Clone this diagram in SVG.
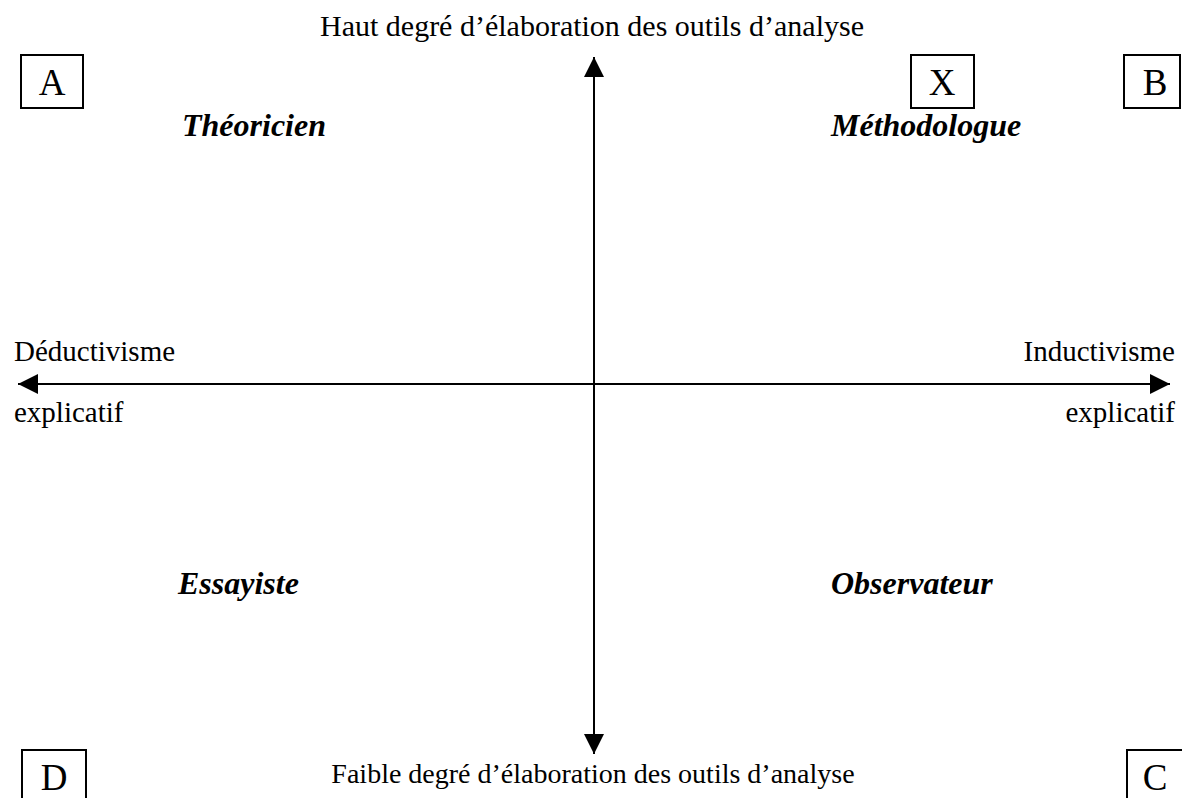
<svg xmlns="http://www.w3.org/2000/svg" width="1182" height="798" viewBox="0 0 1182 798">
<style>
.t{font-family:"Liberation Serif","Times New Roman",serif;fill:#000}
.lab{font-size:30px}
.side{font-size:29px}
.q{font-size:32px;font-weight:bold;font-style:italic}
.box{fill:#fff;stroke:#000;stroke-width:2}
.bl{font-size:37px}
.ax{stroke:#000;stroke-width:2;fill:none}
</style>
<defs>
<marker id="ah" viewBox="0 0 20 20" refX="20" refY="10" markerWidth="20" markerHeight="20" markerUnits="userSpaceOnUse" orient="auto">
<path d="M0,0 L20,10 L0,20 Z" fill="#000"/>
</marker>
</defs>
<rect width="1182" height="798" fill="#fff"/>
<g id="connectors">
<line class="ax" x1="594" y1="385" x2="594" y2="57" marker-end="url(#ah)"/>
<line class="ax" x1="594" y1="385" x2="594" y2="754" marker-end="url(#ah)"/>
<line class="ax" x1="594" y1="384" x2="18" y2="384" marker-end="url(#ah)"/>
<line class="ax" x1="594" y1="384" x2="1170" y2="384" marker-end="url(#ah)"/>
</g>
<g id="top-label"><text class="t lab" x="592" y="36" text-anchor="middle">Haut degré d’élaboration des outils d’analyse</text></g>
<g id="bottom-label"><text class="t lab" x="593" y="783" text-anchor="middle" style="font-size:28px">Faible degré d’élaboration des outils d’analyse</text></g>
<g id="left-label"><text class="t side" x="14" y="361">Déductivisme</text><text class="t side" x="14" y="422">explicatif</text></g>
<g id="right-label"><text class="t side" x="1175" y="361" text-anchor="end">Inductivisme</text><text class="t side" x="1175" y="422" text-anchor="end">explicatif</text></g>
<g id="theoricien"><text class="t q" x="182" y="136">Théoricien</text></g>
<g id="methodologue"><text class="t q" x="831" y="136">Méthodologue</text></g>
<g id="essayiste"><text class="t q" x="178" y="594">Essayiste</text></g>
<g id="observateur"><text class="t q" x="831" y="594">Observateur</text></g>
<g id="box-A"><rect class="box" x="21" y="55" width="62" height="53"/><text class="t bl" x="52" y="95" text-anchor="middle">A</text></g>
<g id="box-X"><rect class="box" x="911" y="55" width="63" height="53"/><text class="t bl" x="942" y="95" text-anchor="middle">X</text></g>
<g id="box-B"><rect class="box" x="1124" y="55" width="56" height="53"/><text class="t bl" x="1155" y="95" text-anchor="middle">B</text></g>
<g id="box-D"><rect class="box" x="22" y="750" width="64" height="60"/><text class="t bl" x="54" y="790" text-anchor="middle">D</text></g>
<g id="box-C"><rect class="box" x="1127" y="750" width="60" height="60"/><text class="t bl" x="1155" y="790" text-anchor="middle">C</text></g>
</svg>
